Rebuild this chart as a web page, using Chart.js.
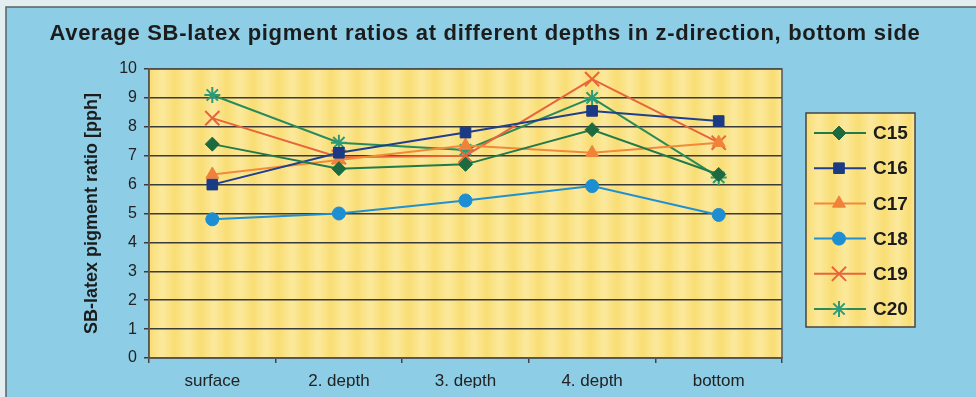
<!DOCTYPE html>
<html>
<head>
<meta charset="utf-8">
<script src="https://cdn.jsdelivr.net/npm/chart.js"></script>
<style>
  html, body { margin: 0; padding: 0; background: #e3eef1; }
  canvas { display: block; }
</style>
</head>
<body>
<canvas id="chart" width="976" height="397"></canvas>
<script>
// Sampling positions through the sheet (z-direction)
const depths = ['surface', '2. depth', '3. depth', '4. depth', 'bottom'];

// Average SB-latex pigment ratio [pph] per coating
const c15 = [7.4, 6.55, 6.7, 7.9, 6.35];
const c16 = [6.0, 7.1, 7.8, 8.55, 8.2];
const c17 = [6.35, 6.85, 7.35, 7.1, 7.45];
const c18 = [4.8, 5.0, 5.45, 5.95, 4.95];
const c19 = [8.3, 6.95, 7.0, 9.65, 7.45];
const c20 = [9.1, 7.45, 7.2, 9.0, 6.25];

const seriesNames = ['C15', 'C16', 'C17', 'C18', 'C19', 'C20'];
const yMin = 0, yMax = 10, yStep = 1;

const chartTitle = 'Average SB-latex pigment ratios at different depths in z-direction, bottom side';
const yTitle = 'SB-latex pigment ratio [pph]';

const FONT = "'Liberation Sans', Arial, Helvetica, sans-serif";

// Soft vertical light/dark yellow banding used for plot and legend panels
function bandedFill(ctx, x0, x1) {
  const g = ctx.createLinearGradient(x0, 0, x1, 0);
  const period = 26;
  const w = x1 - x0;
  const n = Math.ceil(w / period);
  for (let i = 0; i <= n; i++) {
    const p = Math.min(1, (i * period) / w);
    const pm = Math.min(1, (i * period + period / 2) / w);
    g.addColorStop(p, '#f9dd74');
    g.addColorStop(pm, '#fbe99c');
  }
  return g;
}

const backdrop = {
  id: 'backdrop',
  beforeDraw(chart) {
    const { ctx, chartArea: a, width, height } = chart;
    ctx.save();
    ctx.fillStyle = '#e3eef1';
    ctx.fillRect(0, 0, width, height);
    ctx.fillStyle = '#8dcde6';
    ctx.fillRect(6, 7, width, height);
    ctx.strokeStyle = '#5a6366';
    ctx.lineWidth = 1.5;
    ctx.beginPath();
    ctx.moveTo(6, height);
    ctx.lineTo(6, 7);
    ctx.lineTo(width, 7);
    ctx.stroke();
    ctx.fillStyle = bandedFill(ctx, a.left, a.right);
    ctx.fillRect(a.left, a.top, a.right - a.left, a.bottom - a.top);

    // Heading across the full width of the panel
    ctx.fillStyle = '#1c1c1c';
    ctx.font = 'bold 22px ' + FONT;
    if ('letterSpacing' in ctx) ctx.letterSpacing = '0.7px';
    ctx.textAlign = 'center';
    ctx.textBaseline = 'alphabetic';
    ctx.fillText(chartTitle, 485, 40);
    if ('letterSpacing' in ctx) ctx.letterSpacing = '0px';
    ctx.restore();
  },
  afterDatasetsDraw(chart) {
    const { ctx, chartArea: a } = chart;
    ctx.save();
    ctx.strokeStyle = '#555';
    ctx.lineWidth = 1.5;
    ctx.strokeRect(a.left, a.top, a.right - a.left, a.bottom - a.top);
    ctx.restore();
  }
};

// Boxed legend: line sample with marker, followed by the series name
const boxLegend = {
  id: 'boxLegend',
  afterDraw(chart) {
    const { ctx } = chart;
    const bx = 806, by = 113, bw = 109, bh = 214;
    ctx.save();
    ctx.fillStyle = bandedFill(ctx, bx, bx + bw);
    ctx.fillRect(bx, by, bw, bh);
    ctx.strokeStyle = '#444';
    ctx.lineWidth = 1.5;
    ctx.strokeRect(bx, by, bw, bh);
    chart.data.datasets.forEach((ds, i) => {
      const y = 133 + i * 35.2;
      ctx.strokeStyle = ds.borderColor;
      ctx.lineWidth = ds.borderWidth;
      ctx.beginPath();
      ctx.moveTo(814, y);
      ctx.lineTo(866, y);
      ctx.stroke();
      ctx.fillStyle = ds.pointBackgroundColor;
      ctx.strokeStyle = ds.pointBorderColor;
      ctx.lineWidth = ds.pointBorderWidth;
      Chart.helpers.drawPoint(ctx, {
        pointStyle: ds.pointStyle,
        radius: ds.pointRadius,
        rotation: 0,
        borderWidth: ds.pointBorderWidth
      }, 839, y);
      ctx.fillStyle = '#1c1c1c';
      ctx.font = 'bold 19px ' + FONT;
      ctx.textBaseline = 'middle';
      ctx.textAlign = 'left';
      ctx.fillText(ds.label, 873, y + 1);
    });
    ctx.restore();
  }
};

function series(label, data, line, marker, style, radius) {
  return {
    label, data,
    borderColor: line,
    borderWidth: 2,
    pointStyle: style,
    pointRadius: radius,
    pointHoverRadius: radius,
    pointBackgroundColor: marker,
    pointBorderColor: marker,
    pointBorderWidth: (style === 'crossRot' || style === 'star') ? 2 : 1,
    tension: 0,
    fill: false
  };
}

new Chart(document.getElementById('chart'), {
  type: 'line',
  data: {
    labels: depths,
    datasets: [
      series(seriesNames[0], c15, '#217a4a', '#1d6a40', 'rectRot', 7),
      series(seriesNames[1], c16, '#1f3f8e', '#1b3a86', 'rect', 7.5),
      series(seriesNames[2], c17, '#f28a3a', '#f0823a', 'triangle', 7.5),
      series(seriesNames[3], c18, '#2090d0', '#1e8ed2', 'circle', 6.5),
      series(seriesNames[4], c19, '#e8653c', '#e8653c', 'crossRot', 10),
      series(seriesNames[5], c20, '#2a8a58', '#2f9a78', 'star', 8)
    ]
  },
  options: {
    responsive: false,
    animation: false,
    devicePixelRatio: 1,
    layout: { padding: { left: 0, right: 194, top: 69, bottom: 9 } },
    plugins: {
      legend: { display: false },
      tooltip: { enabled: false },
      title: { display: false }
    },
    scales: {
      x: {
        offset: true,
        grid: {
          offset: true,
          drawOnChartArea: false,
          drawTicks: true,
          tickLength: 5,
          color: '#444',
          lineWidth: 1.5
        },
        border: { display: true, color: '#555', width: 1.5 },
        ticks: {
          color: '#222',
          padding: 8,
          font: { family: FONT, size: 17 }
        },
        afterFit(scale) { scale.height = 30; }
      },
      y: {
        min: yMin,
        max: yMax,
        ticks: {
          stepSize: yStep,
          color: '#222',
          padding: 7,
          font: { family: FONT, size: 16 }
        },
        grid: {
          color: '#3a3a3a',
          lineWidth: 1.5,
          tickLength: 5
        },
        border: { display: true, color: '#555', width: 1.5 },
        title: {
          display: true,
          text: yTitle,
          color: '#1c1c1c',
          font: { family: FONT, size: 18, weight: 'bold' },
          padding: { top: 81, bottom: 0 }
        },
        afterFit(scale) { scale.width = 149; }
      }
    }
  },
  plugins: [backdrop, boxLegend]
});
</script>
</body>
</html>
